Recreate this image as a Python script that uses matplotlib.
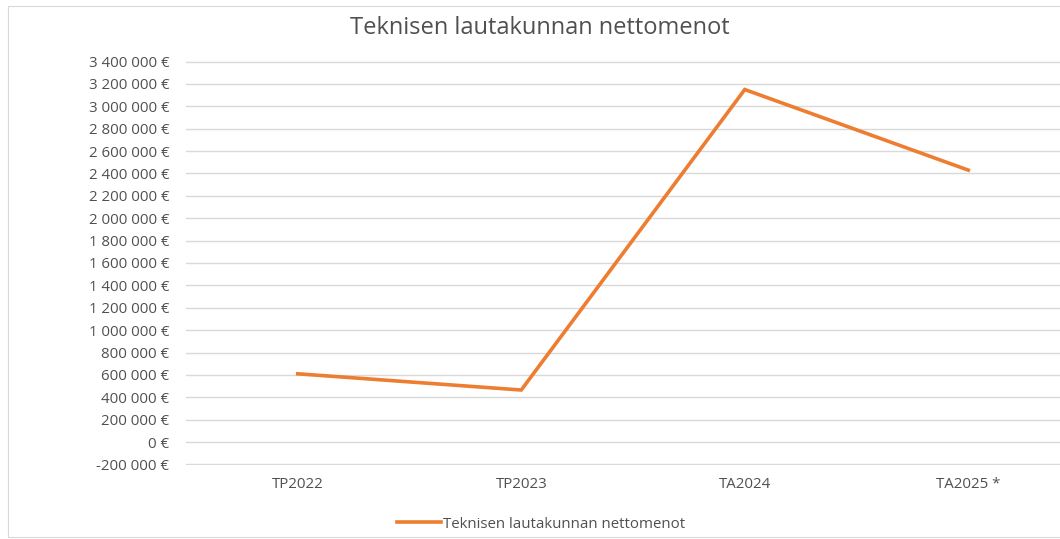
import matplotlib.pyplot as plt
from matplotlib.patches import Rectangle
from matplotlib.ticker import FuncFormatter, MultipleLocator

# data
categories = ['TP2022', 'TP2023', 'TA2024', 'TA2025 *']
nettomenot = [610000, 465000, 3150000, 2430000]
series_name = 'Teknisen lautakunnan nettomenot'
title = 'Teknisen lautakunnan nettomenot'

plt.rcParams['font.family'] = ['Open Sans', 'DejaVu Sans']
text_col = '#505050'
line_col = '#ED7D31'
grid_col = '#D9D9D9'

def euro(v, pos):
    s = '{:,.0f}'.format(abs(v)).replace(',', ' ')
    if v < 0:
        s = '-' + s
    return s + ' €'

fig = plt.figure(figsize=(10.6, 5.39), dpi=100)
fig.patches.append(Rectangle((8 / 1060, 1 - 537 / 539), 1.2, 531 / 539,
                             transform=fig.transFigure, fill=False,
                             edgecolor='#D9D9D9', linewidth=0.8))

# plot area continues past the right edge (reference is cropped)
ax = fig.add_axes([186 / 1060, 1 - 465 / 539, 894 / 1060, 404 / 539])
x = range(len(categories))
ax.plot(x, nettomenot, color=line_col, linewidth=2.6, solid_joinstyle='miter',
        label=series_name)

ax.set_xlim(-0.5, len(categories) - 0.5)
ax.set_ylim(-205000, 3405000)
ax.set_yticks(list(range(-200000, 3400001, 200000)))
ax.yaxis.set_major_formatter(FuncFormatter(euro))
ax.set_xticks(list(x))
ax.set_xticklabels(categories)
ax.grid(axis='y', color=grid_col, linewidth=1)
ax.set_axisbelow(True)
for sp in ax.spines.values():
    sp.set_visible(False)
ax.tick_params(axis='both', length=0, colors=text_col, labelsize=10.8)
ax.tick_params(axis='y', pad=12)
ax.tick_params(axis='x', pad=9)

fig.text(540 / 1060, 1 - 28 / 539, title, ha='center', va='center',
         fontsize=17, color=text_col)

fig.legend(loc='center', bbox_to_anchor=(541 / 1060, 1 - 524 / 539), frameon=False,
           fontsize=10.8, labelcolor=text_col, handlelength=2.9, handletextpad=0.15)

fig.savefig('out.png', dpi=100)
